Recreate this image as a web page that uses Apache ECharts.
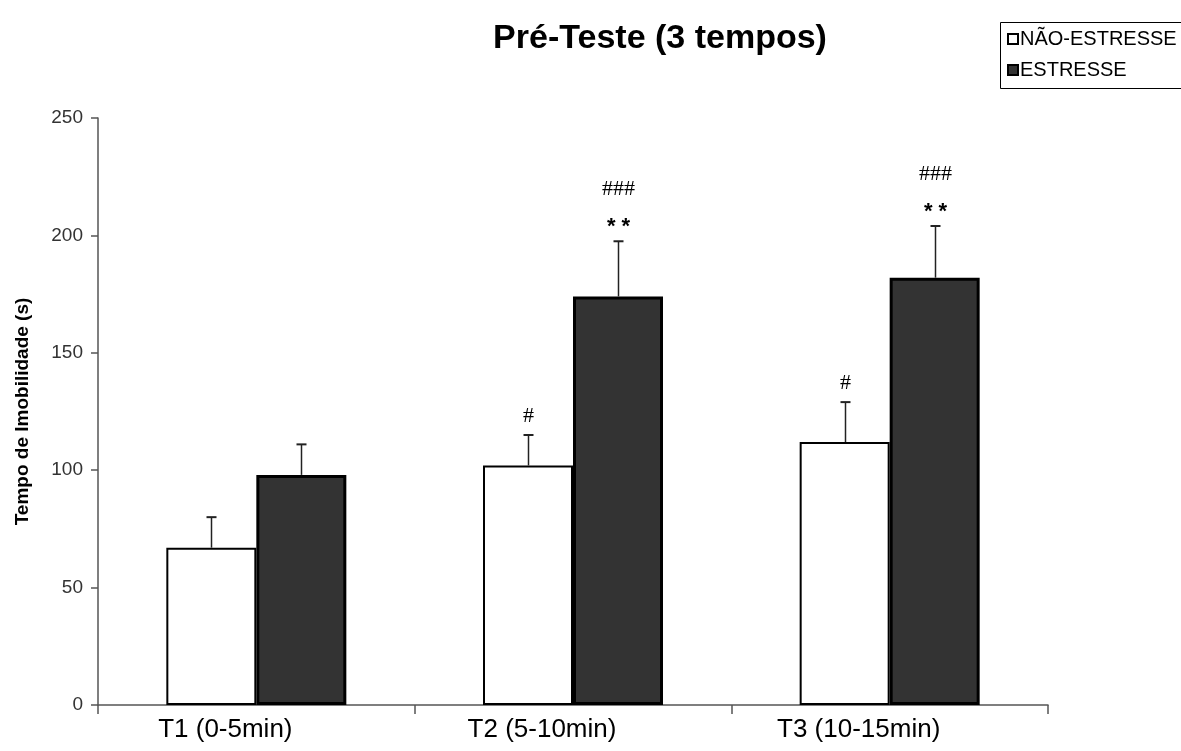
<!DOCTYPE html>
<html>
<head>
<meta charset="utf-8">
<script src="https://cdn.jsdelivr.net/npm/echarts@6/dist/echarts.min.js"></script>
<style>
  html, body { margin: 0; padding: 0; background: #fff; }
  #chart { width: 1181px; height: 751px; }
</style>
</head>
<body>
<div id="chart"></div>
<script>
// Immobility time per 5-minute block of the pre-test
const categories = ['T1 (0-5min)', 'T2 (5-10min)', 'T3 (10-15min)'];
const naoEstresse = [67, 102, 112];
const naoEstresseErr = [13, 13, 17];
const estresse = [98, 174, 182];
const estresseErr = [13, 23.5, 22];
// significance marks above the error bars
const naoEstresseMarks = ['', '#', '#'];
const estresseStars = ['', '**', '**'];
const estresseHashes = ['', '###', '###'];
const yTicks = [0, 50, 100, 150, 200, 250];

const BAR_W = 90;
const chart = echarts.init(document.getElementById('chart'), null, { renderer: 'canvas' });

function errorSeries(means, errs, offset, drawMarks) {
  return {
    type: 'custom',
    silent: true,
    z: 5,
    data: means.map((m, i) => [i, m, errs[i]]),
    renderItem: function (params, api) {
      const i = api.value(0);
      const base = api.coord([i, api.value(1)]);
      const top = api.coord([i, api.value(1) + api.value(2)]);
      const x = Math.round(base[0] + offset) + 0.5;
      const children = [
        { type: 'line', shape: { x1: x, y1: base[1], x2: x, y2: top[1] },
          style: { stroke: '#222', lineWidth: 1.5 } },
        { type: 'line', shape: { x1: x - 5, y1: top[1], x2: x + 5, y2: top[1] },
          style: { stroke: '#222', lineWidth: 2 } }
      ];
      drawMarks(params.dataIndex, x, top[1], children);
      return { type: 'group', children: children };
    }
  };
}

const option = {
  animation: false,
  backgroundColor: '#fff',
  title: {
    text: 'Pré-Teste (3 tempos)',
    left: 655,
    top: 17,
    textAlign: 'center',
    textStyle: { fontFamily: 'Liberation Sans, Arial', fontWeight: 'bold', fontSize: 34, color: '#000' }
  },
  graphic: [
    { type: 'rect', shape: { x: 1000.5, y: 22.5, width: 220, height: 66 },
      style: { fill: '#fff', stroke: '#000', lineWidth: 1 }, z: 1 }
  ],
  legend: {
    data: ['NÃO-ESTRESSE', 'ESTRESSE'],
    orient: 'vertical',
    left: 1002,
    top: 24,
    itemWidth: 10,
    itemHeight: 10,
    itemGap: 11,
    icon: 'rect',
    textStyle: { fontFamily: 'Liberation Sans, Arial', fontSize: 20, color: '#000', padding: [0, 0, 0, -3] },
    z: 10
  },
  grid: { left: 98, right: 133, top: 118, bottom: 46, containLabel: false, outerBoundsMode: 'none' },
  xAxis: {
    type: 'category',
    data: categories,
    axisLine: { lineStyle: { color: '#555', width: 1.5 } },
    axisTick: { show: true, length: 9, lineStyle: { color: '#555', width: 1.5 } },
    axisLabel: {
      fontFamily: 'Liberation Sans, Arial',
      fontSize: 26, color: '#000', margin: 12, padding: [0, 62, 0, 0]
    },
    splitLine: { show: false }
  },
  yAxis: {
    type: 'value',
    min: yTicks[0],
    max: yTicks[yTicks.length - 1],
    interval: 50,
    name: 'Tempo de Imobilidade (s)',
    nameLocation: 'middle',
    nameGap: 66,
    nameTextStyle: { fontFamily: 'Liberation Sans, Arial', fontWeight: 'bold', fontSize: 19, color: '#000' },
    axisLine: { show: true, lineStyle: { color: '#555', width: 1.5 } },
    axisTick: { show: true, length: 7, lineStyle: { color: '#555', width: 1.5 } },
    axisLabel: { fontFamily: 'Liberation Sans, Arial', fontSize: 19, color: '#333', margin: 15 },
    splitLine: { show: false }
  },
  series: [
    {
      name: 'NÃO-ESTRESSE',
      type: 'bar',
      data: naoEstresse,
      barWidth: BAR_W,
      barGap: '0%',
      itemStyle: { color: '#fff', borderColor: '#000', borderWidth: 2 },
      z: 3
    },
    {
      name: 'ESTRESSE',
      type: 'bar',
      data: estresse,
      barWidth: BAR_W,
      barGap: '0%',
      itemStyle: { color: '#333', borderColor: '#000', borderWidth: 3 },
      z: 3
    },
    errorSeries(naoEstresse, naoEstresseErr, -BAR_W / 2, function (i, x, y, out) {
      if (naoEstresseMarks[i]) {
        out.push({ type: 'text', style: { text: naoEstresseMarks[i], x: x, y: y - 19,
          align: 'center', verticalAlign: 'middle',
          font: '22px "Liberation Serif", serif', fill: '#000' } });
      }
    }),
    errorSeries(estresse, estresseErr, BAR_W / 2, function (i, x, y, out) {
      if (estresseStars[i]) {
        out.push({ type: 'text', style: { text: estresseStars[i].split('').join(' '), x: x, y: y - 14,
          align: 'center', verticalAlign: 'middle',
          font: 'bold 22px "Liberation Sans", Arial', fill: '#000' } });
      }
      if (estresseHashes[i]) {
        out.push({ type: 'text', style: { text: estresseHashes[i], x: x, y: y - 52,
          align: 'center', verticalAlign: 'middle',
          font: '22px "Liberation Serif", serif', fill: '#000' } });
      }
    })
  ]
};

chart.setOption(option);
</script>
</body>
</html>
